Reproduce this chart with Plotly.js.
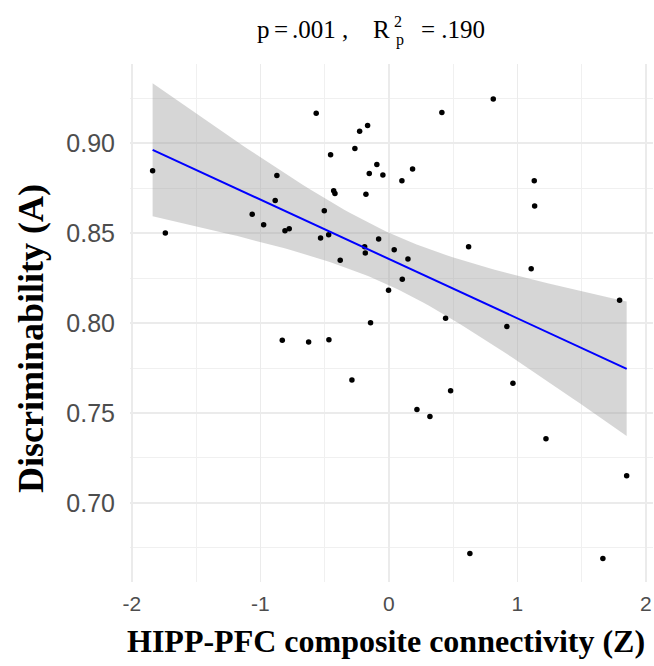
<!DOCTYPE html>
<html>
<head>
<meta charset="utf-8">
<script src="https://cdn.plot.ly/plotly-3.0.1.min.js"></script>
<style>html,body{margin:0;padding:0;background:#fff;}#chart{width:654px;height:666px;}</style>
</head>
<body>
<div id="chart"></div>
<script>
// HIPP-PFC composite connectivity (Z)
const connectivityZ = [
  -1.839, -1.74, -0.566, -0.228, -0.166, -0.265, -0.454, -0.094, -0.153, -0.872,
  -0.430, -0.420, -0.179, -0.885, -1.064, -0.975, -0.503, -0.809, -0.776, -0.532,
  -0.469, -0.189, -0.184, -0.379, -0.080, -0.143, 0.812, 0.412, -0.047, 0.101,
  0.184, 1.131, 1.134, 0.041, 0.148, 0.620, 1.107, 0.104, -0.003, 1.795,
  0.441, 0.918, -0.830, -0.625, -0.467, -0.288, 0.965, 0.480, 0.218, 0.319,
  1.222, 1.850, 0.630, 1.665
];
// Discriminability (A)
const discriminabilityA = [
  0.8846, 0.850, 0.9165, 0.9065, 0.9098, 0.897, 0.8935, 0.888, 0.883, 0.882,
  0.8735, 0.872, 0.8715, 0.868, 0.8604, 0.8546, 0.8624, 0.8513, 0.8524, 0.8472,
  0.849, 0.8424, 0.8389, 0.8348, 0.8467, 0.8002, 0.9244, 0.9169, 0.8822, 0.879,
  0.8856, 0.879, 0.865, 0.8407, 0.8356, 0.8424, 0.8302, 0.8243, 0.8182, 0.8126,
  0.8026, 0.798, 0.7904, 0.7894, 0.7907, 0.7683, 0.7665, 0.7624, 0.752, 0.748,
  0.7357, 0.7152, 0.672, 0.6691
];
const xTickVals = [-2, -1, 0, 1, 2];
const xTickText = ["-2", "-1", "0", "1", "2"];
const yTickVals = [0.70, 0.75, 0.80, 0.85, 0.90];
const yTickText = ["0.70", "0.75", "0.80", "0.85", "0.90"];
const statTitle = {p: "p", eq: "=", pval: ".001", comma: ",", R: "R", sup: "2", sub: "p", r2: "= .190"};
const xTitle = "HIPP-PFC composite connectivity (Z)";
const yTitle = "Discriminability (A)";

// linear model fit with 95% confidence band (as geom_smooth(method = "lm"))
const n = connectivityZ.length;
const mx = connectivityZ.reduce((a, b) => a + b, 0) / n;
const my = discriminabilityA.reduce((a, b) => a + b, 0) / n;
let sxx = 0, sxy = 0;
for (let i = 0; i < n; i++) {
  sxx += (connectivityZ[i] - mx) ** 2;
  sxy += (connectivityZ[i] - mx) * (discriminabilityA[i] - my);
}
const slope = sxy / sxx, intercept = my - slope * mx;
let sse = 0;
for (let i = 0; i < n; i++) sse += (discriminabilityA[i] - intercept - slope * connectivityZ[i]) ** 2;
const sigma = Math.sqrt(sse / (n - 2));
const tcrit = 2.0066; // t(0.975, df = 52)
const xmin = Math.min(...connectivityZ), xmax = Math.max(...connectivityZ);
const fitX = [], fitY = [], lo = [], hi = [];
for (let k = 0; k < 80; k++) {
  const x = xmin + (xmax - xmin) * k / 79;
  const y = intercept + slope * x;
  const se = sigma * Math.sqrt(1 / n + (x - mx) ** 2 / sxx);
  fitX.push(x); fitY.push(y); lo.push(y - tcrit * se); hi.push(y + tcrit * se);
}

const W = 654, H = 666, ML = 130, MR = 1, MT = 64, MB = 84;
const PW = W - ML - MR, PH = H - MT - MB;
const px = v => (v - ML) / PW;
const py = v => (H - MB - v) / PH;

const traces = [
  {x: fitX, y: lo, mode: "lines", line: {width: 0}, hoverinfo: "skip", showlegend: false},
  {x: fitX, y: hi, mode: "lines", line: {width: 0}, fill: "tonexty",
   fillcolor: "rgba(153,153,153,0.4)", hoverinfo: "skip", showlegend: false},
  {x: connectivityZ, y: discriminabilityA, mode: "markers", type: "scatter",
   marker: {color: "#000", size: 5.5}, showlegend: false},
  {x: fitX, y: fitY, mode: "lines", line: {color: "#0000FF", width: 2}, showlegend: false}
];

const serif = "Liberation Serif, Times New Roman, serif";
const sans = "Liberation Sans, Arial, sans-serif";
function piece(text, left, centerY, size) {
  return {text: text, xref: "paper", yref: "paper", x: px(left), y: py(centerY),
          xanchor: "left", yanchor: "middle", showarrow: false, borderpad: 0,
          font: {family: serif, size: size, color: "#000"}};
}
const layout = {
  width: W, height: H,
  margin: {l: ML, r: MR, t: MT, b: MB, pad: 0},
  paper_bgcolor: "#fff", plot_bgcolor: "#fff",
  showlegend: false,
  xaxis: {
    range: [-2.015, 2.055], tickvals: xTickVals, ticktext: xTickText,
    showgrid: true, gridcolor: "#EBEBEB", gridwidth: 1.8, zeroline: false, showline: false,
    ticks: "", ticklabelstandoff: 7,
    tickfont: {family: sans, size: 21, color: "#4D4D4D"},
    minor: {dtick: 0.5, tick0: 0, showgrid: true, gridcolor: "#F0F0F0", gridwidth: 1}
  },
  yaxis: {
    range: [0.6561, 0.9439], tickvals: yTickVals, ticktext: yTickText,
    showgrid: true, gridcolor: "#EBEBEB", gridwidth: 1.8, zeroline: false, showline: false,
    ticks: "", ticklabelstandoff: 14,
    tickfont: {family: sans, size: 25, color: "#4D4D4D"},
    minor: {dtick: 0.025, tick0: 0, showgrid: true, gridcolor: "#F0F0F0", gridwidth: 1}
  },
  annotations: [
    piece(statTitle.p, 256, 30, 25),
    piece(statTitle.eq, 273, 30, 25),
    piece(statTitle.pval, 291, 30, 25),
    piece(statTitle.comma, 341, 30, 25),
    piece(statTitle.R, 372, 30, 25),
    piece(statTitle.sup, 393, 22, 16),
    piece(statTitle.sub, 395, 40, 16),
    piece(statTitle.r2, 420, 30, 25),
    {text: "<b>" + xTitle + "</b>", xref: "paper", yref: "paper", x: px(386), y: py(641), xanchor: "center", yanchor: "middle",
     showarrow: false, font: {family: serif, size: 32, color: "#000"}},
    {text: "<b>" + yTitle + "</b>", xref: "paper", yref: "paper", x: px(31), y: py(339), xanchor: "center", yanchor: "middle",
     textangle: -90, showarrow: false, font: {family: serif, size: 36, color: "#000"}}
  ]
};

Plotly.newPlot("chart", traces, layout, {staticPlot: true, displayModeBar: false});
</script>
</body>
</html>
